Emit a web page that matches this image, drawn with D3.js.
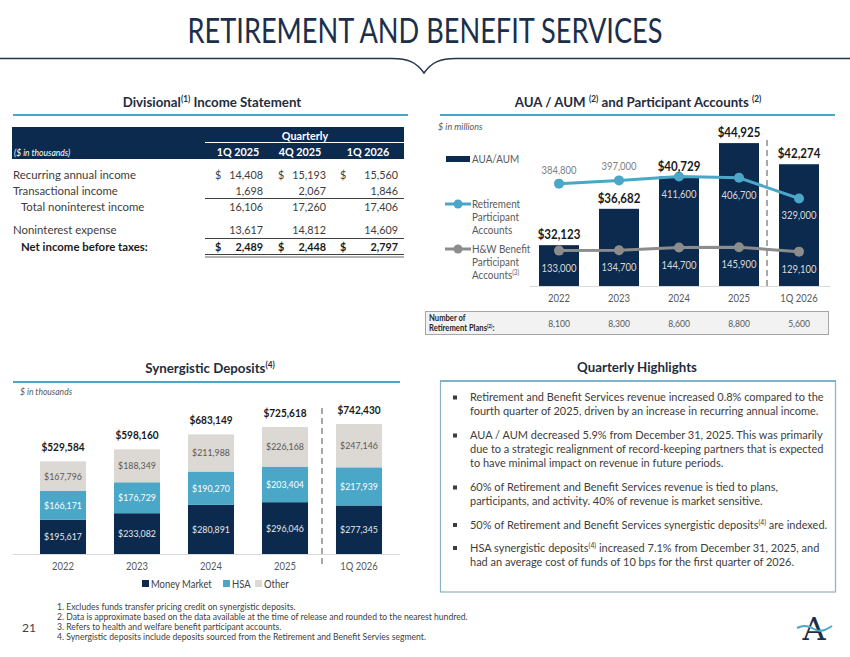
<!DOCTYPE html>
<html>
<head>
<meta charset="utf-8">
<script src="https://cdn.jsdelivr.net/npm/d3@7"></script>
<style>
  body { margin: 0; background: #fff; }
  svg { display: block; font-family: Lato, 'Open Sans', sans-serif; }
</style>
</head>
<body>
<script>
// ---- data ----
const incomeColumns = ['1Q 2025', '4Q 2025', '1Q 2026']
const recurringIncome = [14408, 15193, 15560]
const transactionalIncome = [1698, 2067, 1846]
const totalNoninterestIncome = [16106, 17260, 17406]
const noninterestExpense = [13617, 14812, 14609]
const netIncomeBeforeTaxes = [2489, 2448, 2797]

const auaYears = ['2022', '2023', '2024', '2025', '1Q 2026']
const auaValues = [32123, 36682, 40729, 44925, 42274]
const retirementAccounts = [384800, 397000, 411600, 406700, 329000]
const hwAccounts = [133000, 134700, 144700, 145900, 129100]
const retirementPlans = [8100, 8300, 8600, 8800, 5600]

const depositYears = ['2022', '2023', '2024', '2025', '1Q 2026']
const moneyMarket = [195617, 233082, 280891, 296046, 277345]
const hsaDeposits = [166171, 176729, 190270, 203404, 217939]
const otherDeposits = [167796, 188349, 211988, 226168, 247146]
const depositKeys = ['Money Market', 'HSA', 'Other']

const highlights = [
  [['Retirement and Benefit Services revenue increased 0.8% compared to the'],
   ['fourth quarter of 2025, driven by an increase in recurring annual income.']],
  [['AUA / AUM decreased 5.9% from December 31, 2025. This was primarily'],
   ['due to a strategic realignment of record-keeping partners that is expected'],
   ['to have minimal impact on revenue in future periods.']],
  [['60% of Retirement and Benefit Services revenue is tied to plans,'],
   ['participants, and activity. 40% of revenue is market sensitive.']],
  [['50% of Retirement and Benefit Services synergistic deposits', ['(4)'], ' are indexed.']],
  [['HSA synergistic deposits', ['(4)'], ' increased 7.1% from December 31, 2025, and'],
   ['had an average cost of funds of 10 bps for the first quarter of 2026.']]
]

const footnotes = [
  '1. Excludes funds transfer pricing credit on synergistic deposits.',
  '2. Data is approximate based on the data available at the time of release and rounded to the nearest hundred.',
  '3. Refers to health and welfare benefit participant accounts.',
  '4. Synergistic deposits include deposits sourced from the Retirement and Benefit Servies segment.'
]

// ---- helpers ----
const NAVY = '#0c2a4d'
const TEAL = '#4aa7c7'
const GREY = '#8c8c8c'
const TEXT = '#3d3d3d'
const SQ = 0.9
const fmt = d3.format(',')

const svg = d3.select('body').append('svg')
  .attr('width', 850)
  .attr('height', 657)

function addParts(t, parts, size) {
  if (!Array.isArray(parts)) parts = [parts]
  let up = false
  parts.forEach(p => {
    const sup = Array.isArray(p)
    const ts = t.append('tspan').text(sup ? p[0] : p)
    if (sup) ts.attr('dy', -size * 0.38).attr('font-size', size * 0.62)
    else if (up) ts.attr('dy', size * 0.38)
    up = sup
  })
}

function txt(parent, x, y, s, o = {}) {
  const size = o.size || 11.5
  const t = parent.append('text')
    .attr('transform', `translate(${x},${y}) scale(${o.k || SQ},1)`)
    .attr('text-anchor', o.anchor || 'start')
    .attr('font-size', size)
    .attr('font-weight', o.bold ? 700 : 400)
    .attr('font-style', o.italic ? 'italic' : null)
    .attr('fill', o.color || TEXT)
  addParts(t, s, size)
  return t
}

function rule(x1, x2, y, color, w) {
  svg.append('line').attr('x1', x1).attr('x2', x2).attr('y1', y).attr('y2', y)
    .attr('stroke', color).attr('stroke-width', w)
}

// ---- title ----
const title = svg.append('text')
  .attr('text-anchor', 'middle')
  .attr('font-size', 34)
  .attr('fill', '#1b2f4b')
  .text('RETIREMENT AND BENEFIT SERVICES')
const tw = title.node().getComputedTextLength()
title.attr('transform', `translate(425,43) scale(${475 / tw},1)`)

svg.append('path')
  .attr('d', 'M0,58.5 H392 C408,58.5 416,62 424,73 C432,62 440,58.5 456,58.5 H850')
  .attr('fill', 'none').attr('stroke', '#1f3550').attr('stroke-width', 1.5)

// ---- section headers ----
const head = { anchor: 'middle', bold: true, size: 14, k: 0.95, color: '#1f2d3d' }
txt(svg, 212, 107, ['Divisional', ['(1)'], ' Income Statement'], head)
rule(13, 408, 115, TEAL, 2)
txt(svg, 638, 107, ['AUA / AUM ', ['(2)'], ' and Participant Accounts ', ['(2)']], head)
rule(440, 835, 115, TEAL, 2)
txt(svg, 210, 373, ['Synergistic Deposits', ['(4)']], head)
rule(13, 400, 382, TEAL, 2)
txt(svg, 637, 372, 'Quarterly Highlights', head)

// ---- income statement table ----
const incomeTable = [
  { label: 'Recurring annual income', values: recurringIncome, dollar: true },
  { label: 'Transactional income', values: transactionalIncome },
  { label: 'Total noninterest income', values: totalNoninterestIncome, indent: true },
  { label: 'Noninterest expense', values: noninterestExpense },
  { label: 'Net income before taxes:', values: netIncomeBeforeTaxes, dollar: true, bold: true, indent: true }
]
const rowY = [179, 195, 211, 234, 251]
const colDollar = [215, 278, 340]
const colRight = [263, 326, 398]
const colHead = [238, 300, 368]

svg.append('rect').attr('x', 12).attr('y', 127).attr('width', 392).attr('height', 32).attr('fill', NAVY)
txt(svg, 305, 139.5, 'Quarterly', { anchor: 'middle', bold: true, size: 12, color: '#fff' })
rule(205, 404, 142.5, '#fff', 1)
txt(svg, 14, 155.5, '($ in thousands)', { italic: true, size: 9.5, color: '#fff' })
incomeColumns.forEach((c, i) => txt(svg, colHead[i], 156, c, { anchor: 'middle', bold: true, size: 12, color: '#fff' }))

incomeTable.forEach((r, ri) => {
  const y = rowY[ri]
  const col = r.bold ? '#1a1a1a' : TEXT
  txt(svg, r.indent ? 21 : 13, y, r.label, { bold: r.bold, size: 12, k: 0.95, color: col })
  r.values.forEach((v, i) => {
    if (r.dollar) txt(svg, colDollar[i], y, '$', { bold: r.bold, size: 12, color: col })
    txt(svg, colRight[i], y, fmt(v), { anchor: 'end', bold: r.bold, size: 12, color: col })
  })
})
rule(205, 404, 198.5, '#404040', 1)
rule(205, 404, 238.5, '#404040', 1)
rule(205, 404, 254.5, '#404040', 1.2)
rule(205, 404, 257, '#9a9a9a', 1.5)

// ---- AUA / AUM chart ----
const xA = d3.scaleBand().domain(auaYears).range([529, 829]).paddingInner(1 / 3).paddingOuter(1 / 6)
const yA = d3.scaleLinear().domain([27000, 45000]).range([286, 142.5])
const yP = d3.scaleLinear().domain([0, 500000]).range([286, 153])
const bwA = xA.bandwidth()
const cx = d => xA(d) + bwA / 2

txt(svg, 438, 130, '$ in millions', { italic: true, size: 10, color: '#595959' })

const auaData = auaYears.map((y, i) => ({ year: y, aua: auaValues[i], ret: retirementAccounts[i], hw: hwAccounts[i], plans: retirementPlans[i] }))

rule(530, 830, 286.5, '#d9d9d9', 1)
svg.append('g').selectAll('rect').data(auaData).join('rect')
  .attr('x', d => xA(d.year)).attr('width', bwA)
  .attr('y', d => yA(d.aua)).attr('height', d => 286 - yA(d.aua))
  .attr('fill', NAVY)

svg.append('line').attr('x1', 767).attr('x2', 767).attr('y1', 140).attr('y2', 286)
  .attr('stroke', GREY).attr('stroke-width', 1.5).attr('stroke-dasharray', '6,4')

const lineGen = key => d3.line().x(d => cx(d.year)).y(d => yP(d[key]))
;[['ret', TEAL], ['hw', GREY]].forEach(([key, color]) => {
  svg.append('path').datum(auaData)
    .attr('d', lineGen(key)).attr('fill', 'none')
    .attr('stroke', color).attr('stroke-width', 3)
  svg.append('g').selectAll('circle').data(auaData).join('circle')
    .attr('cx', d => cx(d.year)).attr('cy', d => yP(d[key])).attr('r', 5)
    .attr('fill', color)
})

auaData.forEach(d => {
  txt(svg, cx(d.year), yA(d.aua) - 6, '$' + fmt(d.aua), { anchor: 'middle', bold: true, size: 12.8, color: '#1a1a1a' })
  const py = yP(d.ret)
  const inside = py > yA(d.aua) - 5
  txt(svg, cx(d.year), inside ? py + 21 : py - 10, fmt(d.ret), { anchor: 'middle', size: 10.5, color: inside ? '#d9d9d9' : '#7f7f7f' })
  txt(svg, cx(d.year), yP(d.hw) + 21, fmt(d.hw), { anchor: 'middle', size: 10.5, color: '#d9d9d9' })
})

const axA = svg.append('g').attr('transform', 'translate(0,292)')
  .call(d3.axisBottom(xA).tickSize(0).tickPadding(0))
axA.select('.domain').remove()
axA.selectAll('text').attr('font-family', 'Lato').attr('font-size', 10.5).attr('fill', '#595959')
  .attr('dy', '0.95em').attr('transform', `scale(${SQ},1)`)

// legend
svg.append('rect').attr('x', 446).attr('y', 156).attr('width', 24).attr('height', 6).attr('fill', NAVY)
txt(svg, 472, 163, 'AUA/AUM', { size: 11, color: '#595959' })
;[[204, TEAL, [['Retirement'], ['Participant'], ['Accounts']]],
  [249, GREY, [['H&W Benefit'], ['Participant'], ['Accounts', ['(3)']]]]].forEach(([y, color, lines]) => {
  rule(445, 471, y, color, 3)
  svg.append('circle').attr('cx', 458).attr('cy', y).attr('r', 4.5).attr('fill', color)
  lines.forEach((l, i) => txt(svg, 472, y + 4 + i * 13, l, { size: 11, color: '#595959' }))
})

// retirement plans row
svg.append('rect').attr('x', 425.5).attr('y', 311.5).attr('width', 403).attr('height', 23)
  .attr('fill', '#f2f2f2').attr('stroke', '#a6a6a6')
txt(svg, 429, 320.5, 'Number of', { bold: true, size: 8.5, color: '#262626' })
txt(svg, 429, 331, ['Retirement Plans', ['(2)'], ':'], { bold: true, size: 8.5, color: '#262626' })
auaData.forEach(d => txt(svg, cx(d.year), 326.5, fmt(d.plans), { anchor: 'middle', size: 9.5, color: '#595959' }))

// ---- synergistic deposits ----
const xD = d3.scaleBand().domain(depositYears).range([26, 396]).paddingInner(0.378).paddingOuter(0.189)
const yD = d3.scaleLinear().domain([0, 800000]).range([554, 414])
const bwD = xD.bandwidth()
const depColors = d3.scaleOrdinal().domain(depositKeys).range([NAVY, TEAL, '#dcd8d3'])
const depText = d3.scaleOrdinal().domain(depositKeys).range(['#e8e8e8', '#ffffff', '#595959'])

txt(svg, 20, 395, '$ in thousands', { italic: true, size: 9.5, color: '#595959' })

const depRows = depositYears.map((y, i) => ({ year: y, 'Money Market': moneyMarket[i], HSA: hsaDeposits[i], Other: otherDeposits[i] }))
const stacked = d3.stack().keys(depositKeys)(depRows)

rule(13, 400, 554.5, '#d9d9d9', 1)
stacked.forEach(layer => {
  svg.append('g').selectAll('rect').data(layer).join('rect')
    .attr('x', d => xD(d.data.year)).attr('width', bwD)
    .attr('y', d => yD(d[1])).attr('height', d => yD(d[0]) - yD(d[1]))
    .attr('fill', depColors(layer.key))
  layer.forEach(d => {
    txt(svg, xD(d.data.year) + bwD / 2, (yD(d[0]) + yD(d[1])) / 2 + 3.5, '$' + fmt(d[1] - d[0]),
      { anchor: 'middle', size: 9.8, color: depText(layer.key) })
  })
})
depRows.forEach(d => {
  const total = d3.sum(depositKeys, k => d[k])
  txt(svg, xD(d.year) + bwD / 2, yD(total) - 10, '$' + fmt(total), { anchor: 'middle', bold: true, size: 11.2, color: '#1a1a1a' })
})

svg.append('line').attr('x1', 322).attr('x2', 322).attr('y1', 408).attr('y2', 564)
  .attr('stroke', GREY).attr('stroke-width', 1.5).attr('stroke-dasharray', '6,4')

const axD = svg.append('g').attr('transform', 'translate(0,560)')
  .call(d3.axisBottom(xD).tickSize(0).tickPadding(0))
axD.select('.domain').remove()
axD.selectAll('text').attr('font-family', 'Lato').attr('font-size', 10.5).attr('fill', '#595959')
  .attr('dy', '0.95em').attr('transform', `scale(${SQ},1)`)

const legX = [142, 223, 255]
depositKeys.forEach((k, i) => {
  svg.append('rect').attr('x', legX[i]).attr('y', 580).attr('width', 7).attr('height', 7).attr('fill', depColors(k))
  txt(svg, legX[i] + 9, 588, k, { size: 10.5, color: '#404040' })
})

// ---- quarterly highlights ----
svg.append('rect').attr('x', 440.5).attr('y', 381).attr('width', 395).attr('height', 211)
  .attr('fill', '#fff').attr('stroke', '#8fb0c0').attr('stroke-width', 1.2)
rule(440, 836, 381, '#6aaac4', 1.5)

const hlY = [[397.5, 411.5], [435.5, 449.5, 463.5], [487.5, 501.5], [525], [548, 562]]
const hlGroup = svg.append('g').attr('transform', 'translate(470,0)')
const hlInner = hlGroup.append('g')
highlights.forEach((b, bi) => {
  svg.append('rect').attr('x', 453).attr('y', hlY[bi][0] - 2).attr('width', 4).attr('height', 4).attr('fill', TEXT)
  b.forEach((line, li) => {
    const t = hlInner.append('text').attr('x', 0).attr('y', hlY[bi][li] + 4)
      .attr('font-size', 11.8).attr('fill', TEXT)
    addParts(t, line, 11.8)
  })
})
const firstW = hlInner.select('text').node().getComputedTextLength()
hlInner.attr('transform', `scale(${354 / firstW},1)`)

// ---- footnotes ----
const fnY = [610, 620, 630, 640]
footnotes.forEach((f, i) => txt(svg, 57, fnY[i], f, { size: 8.6, color: '#404040', k: 1 }))
txt(svg, 22, 632, '21', { size: 12, color: '#404040', k: 1 })

// logo
svg.append('text').attr('x', 814).attr('y', 640).attr('text-anchor', 'middle')
  .attr('font-family', "'DejaVu Serif', 'Liberation Serif', serif").attr('font-size', 32)
  .attr('fill', '#1b2f4b').text('A')
svg.append('path').attr('d', 'M797,628 C803,625 808,625 814,629 C820,633 826,630 832,626')
  .attr('fill', 'none').attr('stroke', TEAL).attr('stroke-width', 2)
</script>
</body>
</html>
